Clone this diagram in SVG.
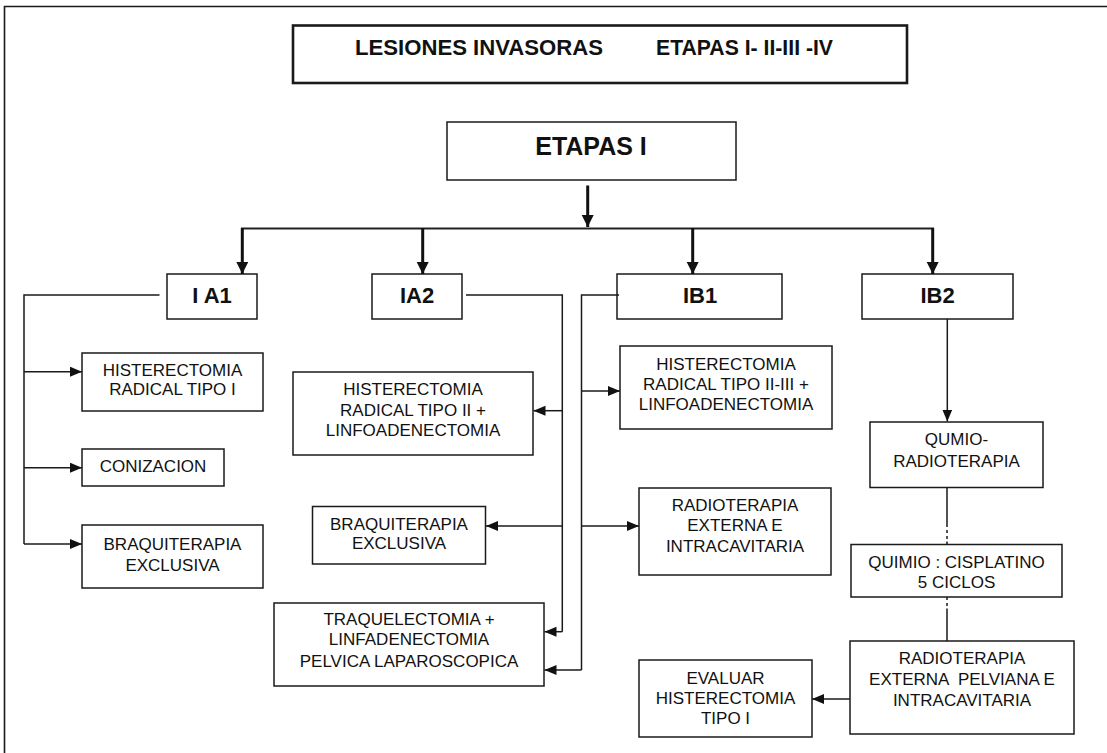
<svg xmlns="http://www.w3.org/2000/svg" width="1107" height="753" viewBox="0 0 1107 753">
<style>
  .box { fill: #ffffff; stroke: #1a1a1a; stroke-width: 1.5; }
  .tbox { fill: #ffffff; stroke: #1a1a1a; stroke-width: 2.6; }
  .t { font-family: "Liberation Sans", Arial, sans-serif; font-size: 17px; fill: #111; text-anchor: middle; }
  .b { font-family: "Liberation Sans", Arial, sans-serif; font-size: 22px; font-weight: bold; fill: #111; text-anchor: middle; }
  .thin { fill: none; stroke: #1a1a1a; stroke-width: 1.5; }
  .thick { fill: none; stroke: #111; stroke-width: 3; }
  .bus { fill: none; stroke: #222; stroke-width: 2; }
</style>
<defs>
  <marker id="ah" markerUnits="userSpaceOnUse" markerWidth="13" markerHeight="11" refX="12" refY="5" orient="auto">
    <path d="M0,0 L12,5 L0,10 z" fill="#111"/>
  </marker>
  <marker id="ahb" markerUnits="userSpaceOnUse" markerWidth="13" markerHeight="13" refX="12" refY="6" orient="auto">
    <path d="M0,0 L12,6 L0,12 z" fill="#111"/>
  </marker>
</defs>
<rect width="1107" height="753" fill="#ffffff"/>
<path d="M4.5,753 V6.5 H1107" fill="none" stroke="#1a1a1a" stroke-width="1.6"/>

<g id="title">
  <rect class="tbox" x="293" y="25.5" width="614" height="57.5"/>
  <text font-family="'Liberation Sans', Arial, sans-serif" font-size="22" font-weight="bold" fill="#111" y="55"><tspan x="355" textLength="248" lengthAdjust="spacingAndGlyphs">LESIONES INVASORAS</tspan><tspan x="656" textLength="177" lengthAdjust="spacingAndGlyphs">ETAPAS I- II-III -IV</tspan></text>
</g>

<g id="etapas">
  <rect class="box" x="447" y="122" width="289" height="58"/>
  <text class="b" x="591" y="155" style="font-size:25px">ETAPAS I</text>
</g>

<g id="ia1">
  <rect class="box" x="167" y="274" width="90" height="45"/>
  <text class="b" x="212" y="303">I A1</text>
</g>
<g id="ia2">
  <rect class="box" x="372" y="274" width="90" height="45"/>
  <text class="b" x="417" y="303">IA2</text>
</g>
<g id="ib1">
  <rect class="box" x="617" y="274" width="165" height="45"/>
  <text class="b" x="700" y="303">IB1</text>
</g>
<g id="ib2">
  <rect class="box" x="862" y="274" width="151" height="45"/>
  <text class="b" x="937.5" y="303">IB2</text>
</g>

<g id="hist1">
  <rect class="box" x="82" y="353" width="181" height="58"/>
  <text class="t" x="172.5" y="376">HISTERECTOMIA</text>
  <text class="t" x="172.5" y="395">RADICAL TIPO I</text>
</g>
<g id="coniz">
  <rect class="box" x="82" y="449" width="142" height="37"/>
  <text class="t" x="153" y="471.5">CONIZACION</text>
</g>
<g id="braq1">
  <rect class="box" x="82" y="525" width="181" height="63"/>
  <text class="t" x="172.5" y="549.5">BRAQUITERAPIA</text>
  <text class="t" x="172.5" y="571">EXCLUSIVA</text>
</g>

<g id="hist2">
  <rect class="box" x="293" y="372" width="240" height="83"/>
  <text class="t" x="413" y="395">HISTERECTOMIA</text>
  <text class="t" x="413" y="415.5">RADICAL TIPO II +</text>
  <text class="t" x="413" y="436">LINFOADENECTOMIA</text>
</g>
<g id="braq2">
  <rect class="box" x="312.5" y="506.5" width="173" height="57.5"/>
  <text class="t" x="399" y="530">BRAQUITERAPIA</text>
  <text class="t" x="399" y="549">EXCLUSIVA</text>
</g>
<g id="traq">
  <rect class="box" x="274" y="603" width="270" height="83"/>
  <text class="t" x="409" y="625">TRAQUELECTOMIA +</text>
  <text class="t" x="409" y="645">LINFADENECTOMIA</text>
  <text class="t" x="409" y="666.5">PELVICA LAPAROSCOPICA</text>
</g>

<g id="hist23">
  <rect class="box" x="620" y="346" width="212" height="83"/>
  <text class="t" x="726" y="369.5">HISTERECTOMIA</text>
  <text class="t" x="726" y="389.5">RADICAL TIPO II-III +</text>
  <text class="t" x="726" y="409.5">LINFOADENECTOMIA</text>
</g>
<g id="radio1">
  <rect class="box" x="639" y="488" width="192" height="87"/>
  <text class="t" x="735" y="510.5">RADIOTERAPIA</text>
  <text class="t" x="735" y="531">EXTERNA E</text>
  <text class="t" x="735" y="552">INTRACAVITARIA</text>
</g>

<g id="qumio">
  <rect class="box" x="870" y="422" width="173" height="65.5"/>
  <text class="t" x="956.5" y="445">QUMIO-</text>
  <text class="t" x="956.5" y="466.5">RADIOTERAPIA</text>
</g>
<g id="quimio">
  <rect class="box" x="851" y="544.5" width="211" height="52.5"/>
  <text class="t" x="956.5" y="568">QUIMIO :  CISPLATINO</text>
  <text class="t" x="956.5" y="587.5">5 CICLOS</text>
</g>
<g id="pelviana">
  <rect class="box" x="850" y="641" width="224" height="93"/>
  <text class="t" x="962" y="664">RADIOTERAPIA</text>
  <text class="t" x="962" y="685" xml:space="preserve">EXTERNA  PELVIANA E</text>
  <text class="t" x="962" y="705.5">INTRACAVITARIA</text>
</g>
<g id="evaluar">
  <rect class="box" x="639" y="660" width="173" height="77"/>
  <text class="t" x="725.5" y="684">EVALUAR</text>
  <text class="t" x="725.5" y="704">HISTERECTOMIA</text>
  <text class="t" x="725.5" y="724">TIPO I</text>
</g>

<g id="connectors">
  <!-- main trunk -->
  <line class="thick" x1="587.7" y1="185.5" x2="587.7" y2="227" marker-end="url(#ahb)"/>
  <line class="bus" x1="241" y1="228.5" x2="934" y2="228.5"/>
  <line class="thick" x1="242.3" y1="228" x2="242.3" y2="274" marker-end="url(#ahb)"/>
  <line class="thick" x1="422.7" y1="228" x2="422.7" y2="274" marker-end="url(#ahb)"/>
  <line class="thick" x1="692.7" y1="228" x2="692.7" y2="274" marker-end="url(#ahb)"/>
  <line class="thick" x1="932.7" y1="228" x2="932.7" y2="274" marker-end="url(#ahb)"/>

  <!-- I A1 branches -->
  <path class="thin" d="M159.5,295 H24 V544"/>
  <line class="thin" x1="24" y1="371.7" x2="82" y2="371.7" marker-end="url(#ah)"/>
  <line class="thin" x1="24" y1="467.7" x2="82" y2="467.7" marker-end="url(#ah)"/>
  <line class="thin" x1="24" y1="544" x2="82" y2="544" marker-end="url(#ah)"/>

  <!-- IA2 branches -->
  <path class="thin" d="M466,295 H562.3 V631.7"/>
  <line class="thin" x1="562.3" y1="410.7" x2="533.5" y2="410.7" marker-end="url(#ah)"/>
  <line class="thin" x1="562.3" y1="526" x2="486" y2="526" marker-end="url(#ah)"/>
  <line class="thin" x1="562.3" y1="631.7" x2="544.5" y2="631.7" marker-end="url(#ah)"/>

  <!-- IB1 branches -->
  <path class="thin" d="M619,295 H581.5 V670"/>
  <line class="thin" x1="581.5" y1="391" x2="620" y2="391" marker-end="url(#ah)"/>
  <line class="thin" x1="581.5" y1="526" x2="639" y2="526" marker-end="url(#ah)"/>
  <line class="thin" x1="581.5" y1="670" x2="544.5" y2="670" marker-end="url(#ah)"/>

  <!-- IB2 chain -->
  <line class="thin" x1="947.3" y1="319" x2="947.3" y2="421.5" marker-end="url(#ah)"/>
  <path class="thin" d="M947,487.5 V527 M947,530 V533 M947,536 V539 M947,541.5 V544.5"/>
  <path class="thin" d="M947,597 V600 M947,603 V606 M947,608.5 V641"/>
  <line class="thin" x1="850" y1="699" x2="812" y2="699" marker-end="url(#ah)"/>
</g>
</svg>
